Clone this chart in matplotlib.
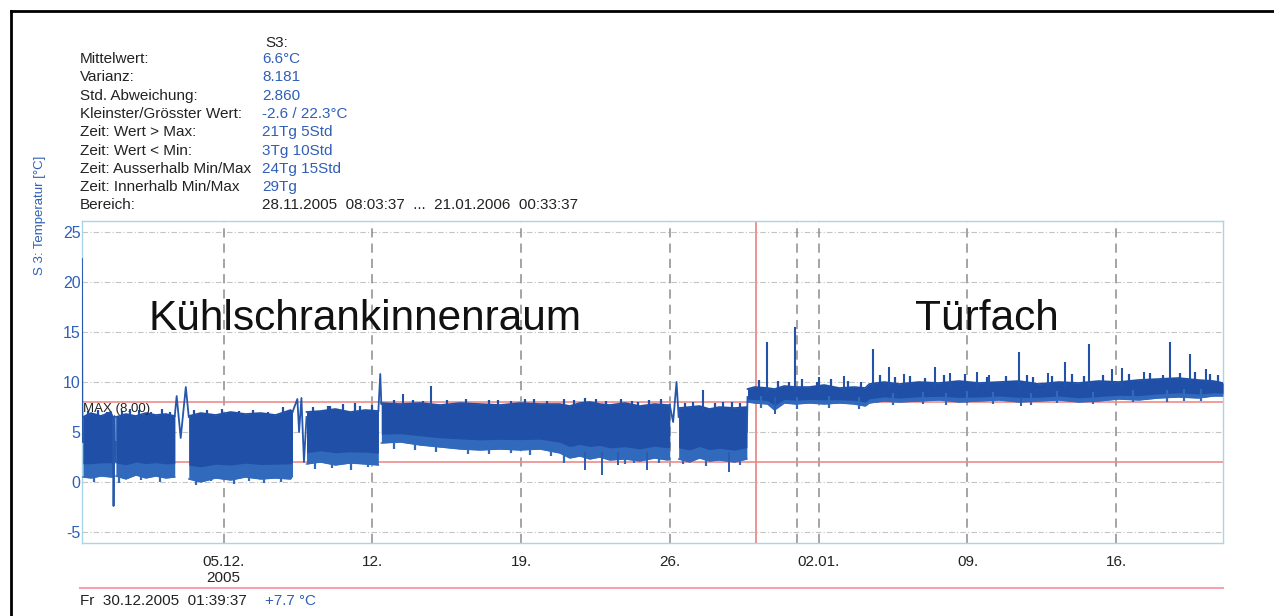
import numpy as np
import matplotlib
matplotlib.use("Agg")
import matplotlib.pyplot as plt
import matplotlib.dates as mdates
from matplotlib.lines import Line2D
from datetime import datetime

plt.rcParams['font.family'] = ['Liberation Sans', 'DejaVu Sans']

# ---------------- data (time in days after 28.11.2005 00:00) ----------------
t_start = 0.33584          # 28.11.2005 08:03:37
t_end = 54.02334           # 21.01.2006 00:33:37
t_cursor = 32.06918        # 30.12.2005 01:39:37
max_limit = 8.0
min_limit = 2.0

seg1_t = [0.38, 0.756, 1.225, 1.695, 1.79]
seg1_lo = [0.5, 0.4, 0.6, 0.5, 0.5]
seg1_hi = [6.5, 6.9, 6.6, 7.0, 6.4]

seg2_t = [1.93, 2.40, 2.87, 3.34, 3.81, 4.28, 4.70]
seg2_lo = [0.6, 0.3, 0.7, 0.4, 0.6, 0.4, 0.5]
seg2_hi = [6.5, 6.8, 6.6, 6.9, 6.7, 6.8, 6.6]

seg3_t = [5.36, 5.92, 6.62, 7.33, 8.03, 8.74, 9.44, 10.15, 10.24]
seg3_lo = [0.3, 0.0, 0.4, 0.2, 0.5, 0.3, 0.4, 0.3, 0.6]
seg3_hi = [6.6, 6.9, 6.7, 7.0, 6.8, 6.9, 6.7, 7.2, 7.0]

seg4_t = [10.90, 11.55, 12.26, 12.96, 13.67, 14.28]
seg4_lo = [1.8, 2.0, 1.7, 1.9, 1.8, 1.7]
seg4_hi = [7.0, 7.1, 7.3, 7.0, 7.2, 7.1]

seg5_t = [14.42, 15.31, 16.25, 17.19, 18.13, 19.07, 20.00, 20.94, 21.88, 22.82,
          23.29, 23.76, 24.23, 24.70, 25.17, 25.87, 26.58, 27.28, 27.89, 27.99]
seg5_lo = [3.9, 4.0, 3.7, 3.5, 3.3, 3.2, 3.3, 3.2, 3.3, 2.9,
           2.4, 2.6, 2.3, 2.5, 2.2, 2.3, 2.1, 2.4, 2.2, 2.3]
seg5_hi = [7.9, 7.8, 7.9, 7.7, 7.9, 7.8, 7.7, 7.9, 7.8, 7.8,
           7.6, 7.9, 8.0, 7.8, 7.7, 7.9, 7.6, 7.8, 7.7, 7.7]

seg6_t = [28.41, 28.92, 29.39, 29.86, 30.33, 31.04, 31.62]
seg6_lo = [2.3, 2.0, 2.4, 2.1, 2.2, 2.0, 2.3]
seg6_hi = [7.4, 7.5, 7.6, 7.3, 7.5, 7.4, 7.5]

seg7_t = [31.65, 31.98, 32.59, 32.92, 33.38, 33.90, 34.56, 35.26, 35.97, 36.67,
          37.19, 37.38, 38.08, 38.78, 39.72, 40.66, 41.60, 42.54, 43.48, 44.42,
          45.36, 46.30, 47.23, 48.17, 49.11, 50.05, 50.99, 51.93, 52.87, 53.57, 54.02]
seg7_lo = [8.0, 7.9, 7.8, 7.2, 7.9, 7.8, 7.9, 7.8, 7.9, 7.8,
           7.6, 7.9, 8.1, 8.0, 8.1, 8.2, 8.0, 8.1, 8.2, 8.0,
           8.1, 8.2, 8.0, 8.1, 8.3, 8.2, 8.4, 8.5, 8.4, 8.6, 8.6]
seg7_hi = [9.3, 9.5, 9.4, 9.3, 9.6, 9.5, 9.5, 9.7, 9.4, 9.5,
           9.4, 9.8, 10.0, 9.8, 10.0, 9.9, 10.1, 9.9, 10.0, 10.1,
           9.8, 10.0, 9.9, 10.1, 10.0, 10.2, 10.3, 10.4, 10.2, 10.1, 9.9]

# thin connecting traces
trace0_t = [0.335, 0.35, 0.38]
trace0_v = [22.3, 8.0, 4.0]
trace1_t = [1.79, 1.82, 1.86, 1.90, 1.93]
trace1_v = [6.4, -2.4, 6.6, 2.0, 4.0]
trace2_t = [4.70, 4.79, 4.98, 5.22, 5.36]
trace2_v = [6.6, 8.6, 4.4, 9.5, 6.5]
trace3_t = [10.24, 10.47, 10.55, 10.66, 10.78, 10.90]
trace3_v = [7.0, 8.3, 5.0, 8.4, 2.0, 6.5]
trace4_t = [14.28, 14.37, 14.42]
trace4_v = [7.1, 10.8, 7.8]
trace5_t = [27.99, 28.15, 28.31, 28.41]
trace5_v = [7.7, 6.0, 10.0, 6.5]
trace6_t = [31.62, 31.65]
trace6_v = [5.0, 8.5]

# large upward spikes
spike_t = [15.45, 16.77, 29.54, 32.59, 33.90, 35.0, 36.2, 37.56, 38.31, 39.0, 40.45, 41.2,
           42.45, 43.0, 44.42, 45.8, 46.58, 47.70, 48.78, 49.25, 50.3, 51.55, 52.45, 53.24]
spike_top = [8.8, 9.6, 9.2, 14.0, 15.5, 10.5, 10.6, 13.3, 11.5, 10.8, 11.5, 10.9,
             11.0, 10.7, 13.0, 10.9, 12.0, 13.8, 11.3, 11.4, 11.0, 14.0, 12.8, 11.3]
spike_base = [7.5, 7.5, 7.0, 9.0, 9.0, 9.0, 9.0, 9.5, 9.5, 9.5, 9.5, 9.5,
              9.5, 9.5, 9.5, 9.5, 9.5, 9.5, 9.5, 9.5, 9.5, 9.8, 9.8, 9.8]

# downward dips
dip_t = [24.00, 24.79, 25.54, 26.91, 30.80, 32.96, 44.51]
dip_bottom = [1.2, 0.7, 1.7, 1.2, 1.0, 6.8, 7.6]
dip_base = [3.0, 3.0, 3.0, 3.0, 3.0, 8.5, 8.5]

# small noise peaks along the band edges
fine_up_t = [0.6, 1.1, 1.5, 2.2, 2.6, 3.0, 3.6, 4.1, 4.5, 5.6, 6.2, 6.9, 7.7, 8.4, 9.1, 9.8,
             11.2, 11.9, 12.0, 12.6, 13.2, 13.4, 14.0,
             15.0, 15.9, 16.4, 17.5, 18.4, 19.5, 19.9, 20.5, 21.2, 21.6, 22.2, 23.0, 23.5,
             24.0, 24.5, 25.0, 25.7, 26.2, 26.5, 27.0, 27.6,
             28.7, 29.1, 30.1, 30.5, 30.9, 31.3,
             32.2, 33.1, 33.6, 34.2, 34.9, 35.6, 36.4, 37.0, 37.9, 38.6, 39.3, 40.0,
             40.9, 41.9, 42.9, 43.8, 44.8, 45.1, 46.0, 46.9, 47.5, 48.4, 49.6, 50.6,
             51.2, 52.0, 52.7, 53.4, 53.8]
fine_up_v = [7.1, 7.2, 7.0, 7.1, 7.3, 7.2, 7.0, 7.3, 7.0, 7.2, 7.2, 7.3, 7.1, 7.2, 7.0, 7.5,
             7.5, 7.6, 7.6, 7.8, 7.9, 7.6, 7.7,
             8.2, 8.2, 8.1, 8.2, 8.3, 8.2, 8.2, 8.1, 8.3, 8.3, 8.1, 8.3, 8.2,
             8.4, 8.3, 8.1, 8.3, 8.1, 8.0, 8.2, 8.3,
             7.9, 8.0, 7.9, 8.0, 8.0, 7.9,
             10.2, 10.1, 10.0, 10.3, 10.0, 10.3, 10.1, 10.0, 10.7, 10.5, 10.6, 10.4,
             10.7, 10.8, 10.5, 10.6, 10.7, 10.5, 10.6, 10.8, 10.6, 10.7, 10.8, 10.9,
             10.7, 10.9, 11.0, 10.8, 10.7]
fine_dn_t = [0.9, 2.1, 3.1, 4.0, 5.7, 6.4, 7.5, 8.2, 8.9, 9.7,
             11.3, 12.1, 13.0, 13.8,
             15.0, 16.0, 17.0, 18.5, 19.5, 20.5, 21.4, 22.4, 23.0, 25.9, 26.3, 27.5,
             28.6, 29.7, 31.3,
             32.3, 34.0, 35.5, 36.9, 38.5, 39.9, 41.0, 42.0, 43.2, 45.0, 46.2, 47.9,
             49.8, 51.4, 52.2, 53.0]
fine_dn_v = [0.0, -0.1, 0.2, 0.0, -0.3, 0.1, -0.2, 0.1, -0.1, 0.0,
             1.3, 1.4, 1.2, 1.5,
             3.3, 3.2, 3.0, 2.8, 2.8, 2.9, 2.7, 2.6, 1.9, 1.8, 1.9, 1.9,
             1.8, 1.6, 1.7,
             7.4, 7.3, 7.4, 7.3, 7.7, 7.8, 7.7, 7.9, 7.8, 7.7, 7.9, 7.8,
             8.0, 8.0, 8.1, 8.1]

# axis ticks
xtick_dates = [datetime(2005, 12, 5), datetime(2005, 12, 12), datetime(2005, 12, 19),
               datetime(2005, 12, 26), datetime(2006, 1, 2), datetime(2006, 1, 9),
               datetime(2006, 1, 16)]
xtick_labels = ["05.12.\n2005", "12.", "19.", "26.", "02.01.", "09.", "16."]
year_line_date = datetime(2006, 1, 1)
yticks = [-5, 0, 5, 10, 15, 20, 25]

stat_labels = ["Mittelwert:", "Varianz:", "Std. Abweichung:", "Kleinster/Grösster Wert:",
               "Zeit: Wert > Max:", "Zeit: Wert < Min:", "Zeit: Ausserhalb Min/Max",
               "Zeit: Innerhalb Min/Max", "Bereich:"]
stat_values = ["6.6°C", "8.181", "2.860", "-2.6 / 22.3°C", "21Tg 5Std", "3Tg 10Std",
               "24Tg 15Std", "29Tg", "28.11.2005  08:03:37  ...  21.01.2006  00:33:37"]

# ---------------- drawing ----------------
W, H = 1274, 616
BASE = mdates.date2num(datetime(2005, 11, 28))
BLUE_TXT = '#2f5fb8'
BAND_LIGHT = '#3169bd'
BAND_DARK = '#1f4fa6'
LINE_BLUE = '#2253a8'


def px(x, y):
    return x / W, 1 - y / H


fig = plt.figure(figsize=(W / 100, H / 100), dpi=100)
fig.patch.set_facecolor('white')
ax = fig.add_axes([82 / W, 1 - 543 / H, (1223 - 82) / W, (543 - 221) / H])

ax.set_xlim(BASE + t_start, BASE + t_end)
ax.set_ylim(-6.1, 26.1)

# grid
for yv in yticks:
    ax.axhline(yv, color='#c4c4c4', lw=0.8, ls=(0, (5, 2, 1, 2)), zorder=1)
vdates = [mdates.date2num(d) for d in xtick_dates] + [mdates.date2num(year_line_date)]
for xv in vdates:
    ax.axvline(xv, color='#8c8c8c', lw=1.1, ls=(0, (6, 4)), zorder=1)

# limits
ax.axhline(max_limit, color='#ee8c8c', lw=1.2, zorder=2)
ax.axhline(min_limit, color='#ee8c8c', lw=1.2, zorder=2)
ax.axvline(BASE + t_cursor, color='#e98080', lw=1.2, zorder=2)

ax.text(BASE + t_start + 0.05, 2.45, "MIN (2.00)", fontsize=9.5, color='#333333',
        va='center', ha='left', zorder=2.5)

segments = [(seg1_t, seg1_lo, seg1_hi), (seg2_t, seg2_lo, seg2_hi),
            (seg3_t, seg3_lo, seg3_hi), (seg4_t, seg4_lo, seg4_hi),
            (seg5_t, seg5_lo, seg5_hi), (seg6_t, seg6_lo, seg6_hi),
            (seg7_t, seg7_lo, seg7_hi)]
for st, slo, shi in segments:
    tt = BASE + np.asarray(st)
    lo = np.asarray(slo)
    hi = np.asarray(shi)
    ax.fill_between(tt, lo, hi, color=BAND_LIGHT, lw=0, zorder=3)
    ax.fill_between(tt, lo + 0.22 * (hi - lo), hi, color=BAND_DARK, lw=0, zorder=3.1)
    ax.plot(tt, hi, color=BAND_DARK, lw=1.2, zorder=3.2)
    ax.plot(tt, lo, color=BAND_LIGHT, lw=1.0, zorder=3.2)

traces = [(trace0_t, trace0_v), (trace1_t, trace1_v), (trace2_t, trace2_v),
          (trace3_t, trace3_v), (trace4_t, trace4_v), (trace5_t, trace5_v),
          (trace6_t, trace6_v)]
for tt, vv in traces:
    ax.plot(BASE + np.asarray(tt), vv, color='#2557ad', lw=1.3, zorder=3.3)

ax.vlines(BASE + np.asarray(spike_t), spike_base, spike_top, color=LINE_BLUE, lw=1.5, zorder=3.3)
ax.vlines(BASE + np.asarray(dip_t), dip_bottom, dip_base, color='#2a5cb0', lw=1.4, zorder=3.3)

fu_v = np.asarray(fine_up_v)
fd_v = np.asarray(fine_dn_v)
ax.vlines(BASE + np.asarray(fine_up_t), fu_v - 1.2, fu_v, color=BAND_DARK, lw=1.6, zorder=3.25)
ax.vlines(BASE + np.asarray(fine_dn_t), fd_v, fd_v + 1.2, color=BAND_LIGHT, lw=1.6, zorder=3.25)

ax.text(BASE + t_start + 0.05, 7.3, "MAX (8.00)", fontsize=9.5, color='#222222',
        va='center', ha='left', zorder=4)

# ticks
ax.set_xticks([mdates.date2num(d) for d in xtick_dates])
ax.set_xticklabels(xtick_labels, fontsize=11, color='#222222', linespacing=1.15)
ax.set_yticks(yticks)
ax.set_yticklabels([str(v) for v in yticks], fontsize=11.5, color=BLUE_TXT)
ax.tick_params(axis='x', length=0, pad=9)
ax.tick_params(axis='y', length=0, pad=1)
for sp in ax.spines.values():
    sp.set_color('#a9d5e8')
    sp.set_linewidth(1.0)

# big annotations
fig.text(*px(148, 330), "Kühlschrankinnenraum", fontsize=30.5, color='#111111',
         ha='left', va='baseline')
fig.text(*px(915, 330), "Türfach", fontsize=30.5, color='#111111',
         ha='left', va='baseline')

# y label
fig.text(*px(40, 215), "S 3: Temperatur [°C]", rotation=90, fontsize=9.5,
         color=BLUE_TXT, ha='center', va='center')

# statistics block
fig.text(*px(265, 43), "S3:", fontsize=11, color='#222222', ha='left', va='center')
for i, (lab, val) in enumerate(zip(stat_labels, stat_values)):
    y = 59 + i * 18.3
    fig.text(*px(80, y), lab, fontsize=11, color='#222222', ha='left', va='center')
    col = '#222222' if lab == "Bereich:" else BLUE_TXT
    fig.text(*px(262, y), val, fontsize=11, color=col, ha='left', va='center')

# bottom cursor info
fig.add_artist(Line2D([80 / W, 1223 / W], [1 - 588 / H] * 2, color='#f3a3b3', lw=1.5))
fig.text(*px(80, 601), "Fr  30.12.2005  01:39:37", fontsize=11, color='#222222',
         ha='left', va='center')
fig.text(*px(265, 601), "+7.7 °C", fontsize=11, color=BLUE_TXT, ha='left', va='center')

# outer frame (top and left edges)
fig.add_artist(Line2D([11 / W, 1.0], [1 - 11 / H] * 2, color='black', lw=2))
fig.add_artist(Line2D([11 / W, 11 / W], [0.0, 1 - 11 / H], color='black', lw=2))

fig.savefig("out.png", dpi=100)
